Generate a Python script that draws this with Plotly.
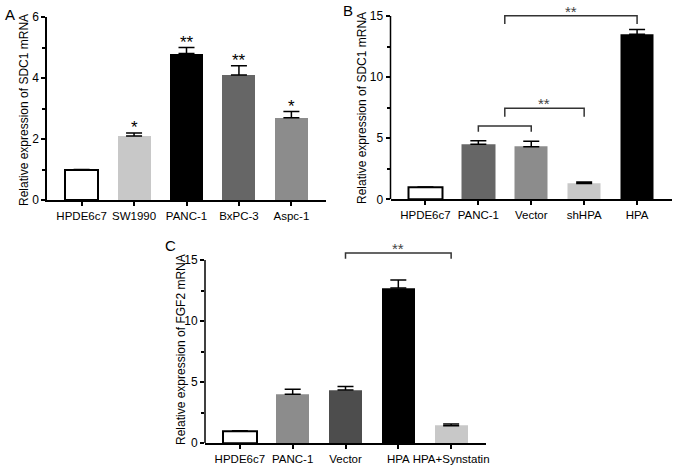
import plotly.graph_objects as go

# ---------------- data ----------------
catsA = ["HPDE6c7", "SW1990", "PANC-1", "BxPC-3", "Aspc-1"]
meanA = [1.0, 2.1, 4.8, 4.1, 2.7]
errA = [0.0, 0.1, 0.2, 0.3, 0.2]
sigA = ["", "*", "**", "**", "*"]

catsB = ["HPDE6c7", "PANC-1", "Vector", "shHPA", "HPA"]
meanB = [1.0, 4.5, 4.3, 1.3, 13.5]
errB = [0.0, 0.3, 0.45, 0.12, 0.4]
# (from index, to index, bracket level, tail length, label)
bracketsB = [(1, 2, 6.0, 0.47, ""), (1.5, 3, 7.45, 0.69, "**"), (1.5, 4, 15.03, 0.68, "**")]

catsC = ["HPDE6c7", "PANC-1", "Vector", "HPA", "HPA+Synstatin"]
meanC = [1.0, 4.0, 4.35, 12.7, 1.42]
errC = [0.0, 0.4, 0.28, 0.66, 0.13]
bracketsC = [(2, 4, 15.57, 0.47, "**")]

ytitleA = "Relative expression of SDC1 mRNA"
ytitleB = "Relative expression of SDC1 mRNA"
ytitleC = "Relative expression of FGF2 mRNA"

# ---------------- styles ----------------
colorsA = ["#ffffff", "#c8c8c8", "#000000", "#666666", "#8c8c8c"]
colorsB = ["#ffffff", "#666666", "#8c8c8c", "#c8c8c8", "#000000"]
colorsC = ["#ffffff", "#8c8c8c", "#4d4d4d", "#000000", "#c8c8c8"]
outline = [2, 0, 0, 0, 0]

W, H = 677, 470
FONT = "Liberation Sans, Arial, sans-serif"


def px_dom_x(a, b):
    return [a / W, b / W]


def px_dom_y(top, bottom):
    return [1 - bottom / H, 1 - top / H]


fig = go.Figure()


def add_bars(cats, means, errs, colors, xa, ya):
    fig.add_trace(go.Bar(
        x=cats, y=means, width=0.63,
        marker=dict(color=colors, line=dict(color="#000000", width=outline)),
        error_y=dict(type="data", array=errs, arrayminus=[0] * len(errs), symmetric=False,
                     color="#000000", thickness=1.5, width=8),
        xaxis=xa, yaxis=ya, showlegend=False, hoverinfo="skip",
    ))


add_bars(catsA, meanA, errA, colorsA, "x", "y")
add_bars(catsB, meanB, errB, colorsB, "x2", "y2")
add_bars(catsC, meanC, errC, colorsC, "x3", "y3")

xcommon = dict(type="category", range=[-0.66, 4.66], showline=True, linecolor="#000",
               linewidth=1.5, ticks="outside", ticklen=4, tickwidth=1.5, tickcolor="#000",
               showgrid=False, zeroline=False, fixedrange=True, tickangle=0, automargin=False,
               tickfont=dict(family=FONT, size=11.5, color="#000"))
ycommon = dict(linecolor="#000", linewidth=1.5, ticks="outside", ticklen=4, tickwidth=1.5,
               tickcolor="#000", showgrid=False, zeroline=False, fixedrange=True,
               automargin=False, tickfont=dict(family=FONT, size=12, color="#000"))

# panel geometry (pixels)
sB = (199.3 - 16) / 15
sC = (443 - 260) / 15
topB = 15.3
topC = 15.8

fig.update_layout(
    width=W, height=H, margin=dict(l=0, r=0, t=0, b=0, autoexpand=False),
    paper_bgcolor="white", plot_bgcolor="white", bargap=0,
    xaxis=dict(domain=px_dom_x(47, 326), anchor="y", **xcommon),
    yaxis=dict(domain=px_dom_y(17, 200), anchor="x", range=[0, 6], dtick=2, tick0=0,
               showline=True, minor=dict(ticks="outside", ticklen=3, tickwidth=1.5,
                                         tickcolor="#000", dtick=1), **ycommon),
    xaxis2=dict(domain=px_dom_x(390.5, 672), anchor="y2", **xcommon),
    yaxis2=dict(domain=px_dom_y(199.3 - topB * sB, 199.3), anchor="x2", range=[0, topB],
                dtick=5, tick0=0, showline=False,
                minor=dict(ticks="outside", ticklen=3, tickwidth=1.5, tickcolor="#000", dtick=2.5),
                **ycommon),
    xaxis3=dict(domain=px_dom_x(205, 486), anchor="y3", **xcommon),
    yaxis3=dict(domain=px_dom_y(443 - topC * sC, 443), anchor="x3", range=[0, topC],
                dtick=5, tick0=0, showline=False,
                minor=dict(ticks="outside", ticklen=3, tickwidth=1.5, tickcolor="#000", dtick=2.5),
                **ycommon),
)

shapes = []
annotations = []

# y axis lines for B and C ending at 15
for xa, ya in (("x2", "y2"), ("x3", "y3")):
    shapes.append(dict(type="line", xref=xa + " domain", yref=ya, x0=0, x1=0, y0=0, y1=15,
                       line=dict(color="#000", width=1.5)))

# significance stars on A
for c, m, e, s in zip(catsA, meanA, errA, sigA):
    if s:
        annotations.append(dict(xref="x", yref="y", x=c, y=m + e, text=s, showarrow=False,
                                yanchor="bottom", yshift=-6,
                                font=dict(family=FONT, size=17, color="#000")))


def add_brackets(brs, xa, ya):
    for x0, x1, lvl, tail, lab in brs:
        shapes.append(dict(type="path", xref=xa, yref=ya,
                           path=f"M {x0},{lvl - tail} L {x0},{lvl} L {x1},{lvl} L {x1},{lvl - tail}",
                           line=dict(color="#333", width=1.5)))
        if lab:
            annotations.append(dict(xref=xa, yref=ya, x=(x0 + x1) / 2, y=lvl, text=lab,
                                    showarrow=False, yanchor="bottom", yshift=-6,
                                    font=dict(family=FONT, size=15, color="#444")))


add_brackets(bracketsB, "x2", "y2")
add_brackets(bracketsC, "x3", "y3")

# y axis titles
for txt, xp, yp in ((ytitleA, 24, 110), (ytitleB, 362, 108), (ytitleC, 181, 350)):
    annotations.append(dict(xref="paper", yref="paper", x=xp / W, y=1 - yp / H, text=txt,
                            textangle=-90, showarrow=False, xanchor="center", yanchor="middle",
                            font=dict(family=FONT, size=12, color="#000")))

# panel letters
for txt, xp, yp in (("A", 10, 15), ("B", 348, 10), ("C", 170, 245)):
    annotations.append(dict(xref="paper", yref="paper", x=xp / W, y=1 - yp / H, text=txt,
                            showarrow=False, xanchor="center", yanchor="middle",
                            font=dict(family=FONT, size=15, color="#000")))

fig.update_layout(shapes=shapes, annotations=annotations)
fig.write_html("out.html", config={"displayModeBar": False},
               post_script="document.body.style.margin='0';document.body.style.overflow='hidden';")
